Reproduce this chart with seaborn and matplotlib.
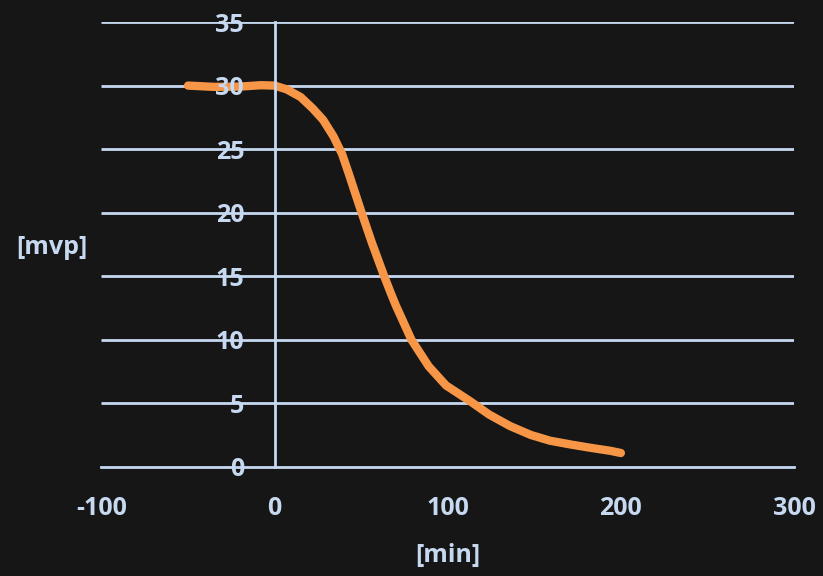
import matplotlib
matplotlib.use('Agg')
import matplotlib.pyplot as plt
import numpy as np
import pandas as pd
import seaborn as sns

# values
time_min = [-50, -35, -20, -8, 0, 7, 15, 22, 28, 34, 39, 43, 50, 56, 63, 67, 70,
            79, 89, 99, 113, 124, 136, 148, 159, 171, 182, 194, 200]
mvp = [30.0, 29.9, 29.92, 30.03, 30.0, 29.7, 29.1, 28.2, 27.3, 26.0, 24.6, 23.0,
       20.1, 17.7, 15.1, 13.7, 12.7, 10.0, 7.9, 6.4, 5.15, 4.1, 3.2, 2.5, 2.05,
       1.75, 1.5, 1.25, 1.08]
x_ticks = [-100, 0, 100, 200, 300]
y_ticks = [0, 5, 10, 15, 20, 25, 30, 35]

df = pd.DataFrame({'min': time_min, 'mvp': mvp})

bg = '#161616'
fg = '#c6d9f1'
orange = '#f79646'

sns.set_theme(style='dark')
plt.rcParams['font.family'] = ['Open Sans', 'DejaVu Sans']
plt.rcParams['font.weight'] = 'bold'
plt.rcParams['axes.unicode_minus'] = False

fig = plt.figure(figsize=(8.23, 5.76), dpi=100, facecolor=bg)
ax = fig.add_axes([0.1233, 0.1897, 0.8415, 0.772])
ax.set_facecolor('none')

# horizontal gridlines under the curve
ax.hlines(y_ticks[1:], x_ticks[0], x_ticks[-1], colors=fg, linewidth=2.0, zorder=1)

sns.lineplot(data=df, x='min', y='mvp', ax=ax, color=orange, linewidth=6,
             solid_capstyle='round', solid_joinstyle='round', zorder=2)

ax.set_xlim(x_ticks[0], x_ticks[-1])
ax.set_ylim(0, 35)
ax.set_xticks(x_ticks)
ax.set_yticks(y_ticks)
ax.set_axisbelow(False)

for s in ['top', 'right']:
    ax.spines[s].set_visible(False)
ax.spines['left'].set_position(('data', 0))
ax.spines['left'].set_color(fg)
ax.spines['left'].set_linewidth(2.0)
ax.spines['bottom'].set_color(fg)
ax.spines['bottom'].set_linewidth(2.0)

ax.tick_params(axis='x', direction='out', length=7, width=2, color=fg,
               labelcolor=fg, labelsize=18, pad=14)
ax.tick_params(axis='y', length=0, labelcolor=fg, labelsize=18, pad=22)
for lab in ax.get_xticklabels() + ax.get_yticklabels():
    lab.set_fontweight('bold')
ax.grid(False)

ax.set_xlabel('[min]', color=fg, fontsize=18, fontweight='bold')
ax.set_ylabel('[mvp]', color=fg, fontsize=18, fontweight='bold', rotation=0,
              ha='center', va='center')
ax.xaxis.set_label_coords(0.5, -0.199)
ax.yaxis.set_label_coords(-0.071, 0.494)
ax.xaxis.label.set_va('center')

fig.savefig('out.png', dpi=100, facecolor=bg)
